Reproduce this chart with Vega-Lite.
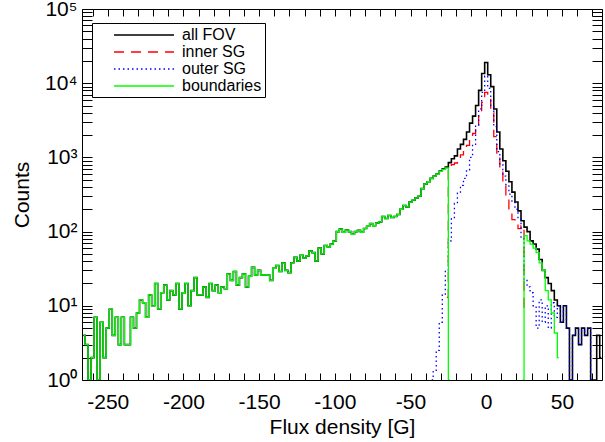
{
  "$schema": "https://vega.github.io/schema/vega-lite/v6.json",
  "width": 520,
  "height": 371,
  "autosize": {"type": "none"},
  "padding": {"left": 82, "top": 9, "right": 3, "bottom": 62},
  "background": "white",
  "config": {
    "view": {"stroke": null},
    "font": "Liberation Sans",
    "axis": {"grid": false, "domainColor": "black", "domainWidth": 1, "tickColor": "black", "tickWidth": 1, "labelColor": "black", "titleColor": "black", "labelFont": "Liberation Sans", "titleFont": "Liberation Sans", "labelFontSize": 21, "titleFontSize": 21, "titleFontWeight": "normal", "labelOverlap": false, "labelFlush": false},
    "legend": {
      "orient": "none", "legendX": 10, "legendY": 14,
      "padding": 3, "strokeColor": "black", "fillColor": "white", "cornerRadius": 0,
      "symbolType": "M-3.75,0H3.75", "symbolSize": 256, "symbolStrokeWidth": 1.5,
      "symbolOffset": 40, "labelOffset": 29, "rowPadding": -0.7,
      "labelFont": "Liberation Sans", "labelFontSize": 16, "labelColor": "black",
      "symbolFillColor": "transparent"
    }
  },
  "data": {"values": [
    {"x": -266, "all FOV": 4, "boundaries": 4},
    {"x": -264, "all FOV": 3, "boundaries": 3},
    {"x": -262, "all FOV": 1, "boundaries": 1},
    {"x": -260, "all FOV": 2, "boundaries": 2},
    {"x": -258, "all FOV": 7, "boundaries": 7},
    {"x": -256, "all FOV": 1, "boundaries": 1},
    {"x": -254, "all FOV": 6, "boundaries": 6},
    {"x": -252, "all FOV": 2, "boundaries": 2},
    {"x": -250, "all FOV": 5, "boundaries": 5},
    {"x": -248, "all FOV": 9, "boundaries": 9},
    {"x": -246, "all FOV": 4, "boundaries": 4},
    {"x": -244, "all FOV": 7, "boundaries": 7},
    {"x": -242, "all FOV": 3, "boundaries": 3},
    {"x": -240, "all FOV": 7, "boundaries": 7},
    {"x": -238, "all FOV": 3, "boundaries": 3},
    {"x": -236, "all FOV": 3, "boundaries": 3},
    {"x": -234, "all FOV": 7, "boundaries": 7},
    {"x": -232, "all FOV": 5, "boundaries": 5},
    {"x": -230, "all FOV": 8, "boundaries": 8},
    {"x": -228, "all FOV": 12, "boundaries": 12},
    {"x": -226, "all FOV": 11, "boundaries": 11},
    {"x": -224, "all FOV": 7, "boundaries": 7},
    {"x": -222, "all FOV": 14, "boundaries": 14},
    {"x": -220, "all FOV": 10, "boundaries": 10},
    {"x": -218, "all FOV": 20, "boundaries": 20},
    {"x": -216, "all FOV": 9, "boundaries": 9},
    {"x": -214, "all FOV": 15, "boundaries": 15},
    {"x": -212, "all FOV": 19, "boundaries": 19},
    {"x": -210, "all FOV": 12, "boundaries": 12},
    {"x": -208, "all FOV": 16, "boundaries": 16},
    {"x": -206, "all FOV": 14, "boundaries": 14},
    {"x": -204, "all FOV": 20, "boundaries": 20},
    {"x": -202, "all FOV": 9, "boundaries": 9},
    {"x": -200, "all FOV": 15, "boundaries": 15},
    {"x": -198, "all FOV": 20, "boundaries": 20},
    {"x": -196, "all FOV": 10, "boundaries": 10},
    {"x": -194, "all FOV": 16, "boundaries": 16},
    {"x": -192, "all FOV": 24, "boundaries": 24},
    {"x": -190, "all FOV": 14, "boundaries": 14},
    {"x": -188, "all FOV": 14, "boundaries": 14},
    {"x": -186, "all FOV": 18, "boundaries": 18},
    {"x": -184, "all FOV": 13, "boundaries": 13},
    {"x": -182, "all FOV": 20, "boundaries": 20},
    {"x": -180, "all FOV": 16, "boundaries": 16},
    {"x": -178, "all FOV": 19, "boundaries": 19},
    {"x": -176, "all FOV": 15, "boundaries": 15},
    {"x": -174, "all FOV": 18, "boundaries": 18},
    {"x": -172, "all FOV": 17, "boundaries": 17},
    {"x": -170, "all FOV": 27, "boundaries": 27},
    {"x": -168, "all FOV": 22, "boundaries": 22},
    {"x": -166, "all FOV": 29, "boundaries": 29},
    {"x": -164, "all FOV": 19, "boundaries": 19},
    {"x": -162, "all FOV": 24, "boundaries": 24},
    {"x": -160, "all FOV": 27, "boundaries": 27},
    {"x": -158, "all FOV": 18, "boundaries": 18},
    {"x": -156, "all FOV": 25, "boundaries": 25},
    {"x": -154, "all FOV": 33, "boundaries": 33},
    {"x": -152, "all FOV": 26, "boundaries": 26},
    {"x": -150, "all FOV": 30, "boundaries": 30},
    {"x": -148, "all FOV": 26, "boundaries": 26},
    {"x": -146, "all FOV": 26, "boundaries": 26},
    {"x": -144, "all FOV": 26, "boundaries": 26},
    {"x": -142, "all FOV": 22, "boundaries": 22},
    {"x": -140, "all FOV": 32, "boundaries": 32},
    {"x": -138, "all FOV": 35, "boundaries": 35},
    {"x": -136, "all FOV": 29, "boundaries": 29},
    {"x": -134, "all FOV": 38, "boundaries": 38},
    {"x": -132, "all FOV": 30, "boundaries": 30},
    {"x": -130, "all FOV": 28, "boundaries": 28},
    {"x": -128, "all FOV": 38, "boundaries": 38},
    {"x": -126, "all FOV": 45, "boundaries": 45},
    {"x": -124, "all FOV": 40, "boundaries": 40},
    {"x": -122, "all FOV": 48, "boundaries": 48},
    {"x": -120, "all FOV": 44, "boundaries": 44},
    {"x": -118, "all FOV": 47, "boundaries": 47},
    {"x": -116, "all FOV": 55, "boundaries": 55},
    {"x": -114, "all FOV": 52, "boundaries": 52},
    {"x": -112, "all FOV": 40, "boundaries": 40},
    {"x": -110, "all FOV": 60, "boundaries": 60},
    {"x": -108, "all FOV": 50, "boundaries": 50},
    {"x": -106, "all FOV": 65, "boundaries": 65},
    {"x": -104, "all FOV": 62, "boundaries": 62},
    {"x": -102, "all FOV": 68, "boundaries": 68},
    {"x": -100, "all FOV": 75, "boundaries": 75},
    {"x": -98, "all FOV": 100, "boundaries": 100},
    {"x": -96, "all FOV": 108, "boundaries": 108},
    {"x": -94, "all FOV": 98, "boundaries": 98},
    {"x": -92, "all FOV": 105, "boundaries": 105},
    {"x": -90, "all FOV": 100, "boundaries": 100},
    {"x": -88, "all FOV": 92, "boundaries": 92},
    {"x": -86, "all FOV": 100, "boundaries": 100},
    {"x": -84, "all FOV": 104, "boundaries": 104},
    {"x": -82, "all FOV": 98, "boundaries": 98},
    {"x": -80, "all FOV": 110, "boundaries": 110},
    {"x": -78, "all FOV": 118, "boundaries": 118},
    {"x": -76, "all FOV": 128, "boundaries": 128},
    {"x": -74, "all FOV": 120, "boundaries": 120},
    {"x": -72, "all FOV": 130, "boundaries": 130},
    {"x": -70, "all FOV": 135, "boundaries": 135},
    {"x": -68, "all FOV": 160, "boundaries": 160},
    {"x": -66, "all FOV": 150, "boundaries": 150},
    {"x": -64, "all FOV": 165, "boundaries": 165},
    {"x": -62, "all FOV": 155, "boundaries": 155},
    {"x": -60, "all FOV": 160, "boundaries": 160},
    {"x": -58, "all FOV": 170, "boundaries": 170},
    {"x": -56, "all FOV": 200, "boundaries": 200},
    {"x": -54, "all FOV": 225, "boundaries": 225},
    {"x": -52, "all FOV": 215, "boundaries": 215},
    {"x": -50, "all FOV": 250, "boundaries": 250},
    {"x": -48, "all FOV": 265, "boundaries": 265},
    {"x": -46, "all FOV": 285, "boundaries": 285},
    {"x": -44, "all FOV": 300, "boundaries": 300},
    {"x": -42, "all FOV": 380, "boundaries": 380},
    {"x": -40, "all FOV": 440, "boundaries": 440},
    {"x": -38, "all FOV": 470, "boundaries": 470},
    {"x": -36, "all FOV": 521, "outer SG": 1, "boundaries": 520},
    {"x": -34, "all FOV": 561, "outer SG": 1.3, "boundaries": 560},
    {"x": -32, "all FOV": 603, "outer SG": 2.5, "boundaries": 600},
    {"x": -30, "all FOV": 656, "outer SG": 6, "boundaries": 650},
    {"x": -28, "all FOV": 704, "outer SG": 14, "boundaries": 690},
    {"x": -26, "all FOV": 740, "inner SG": 13, "outer SG": 30, "boundaries": 720},
    {"x": -24, "all FOV": 850, "inner SG": 750, "outer SG": 75, "boundaries": 1},
    {"x": -22, "all FOV": 960, "inner SG": 800, "outer SG": 150},
    {"x": -20, "all FOV": 1050, "inner SG": 840, "outer SG": 240},
    {"x": -18, "all FOV": 1300, "inner SG": 950, "outer SG": 330},
    {"x": -16, "all FOV": 1500, "inner SG": 1080, "outer SG": 420},
    {"x": -14, "all FOV": 1750, "inner SG": 1250, "outer SG": 520},
    {"x": -12, "all FOV": 2200, "inner SG": 1450, "outer SG": 680},
    {"x": -10, "all FOV": 2900, "inner SG": 1750, "outer SG": 1000},
    {"x": -8, "all FOV": 3600, "inner SG": 2100, "outer SG": 1450},
    {"x": -6, "all FOV": 5000, "inner SG": 2600, "outer SG": 2700},
    {"x": -4, "all FOV": 8000, "inner SG": 3600, "outer SG": 4500},
    {"x": -2, "all FOV": 13500, "inner SG": 5500, "outer SG": 7500},
    {"x": 0, "all FOV": 19000, "inner SG": 7500, "outer SG": 12500},
    {"x": 2, "all FOV": 13000, "inner SG": 6500, "outer SG": 8500},
    {"x": 4, "all FOV": 9000, "inner SG": 4000, "outer SG": 5000},
    {"x": 6, "all FOV": 4500, "inner SG": 1900, "outer SG": 2600},
    {"x": 8, "all FOV": 2200, "inner SG": 1100, "outer SG": 1200},
    {"x": 10, "all FOV": 1300, "inner SG": 650, "outer SG": 800},
    {"x": 12, "all FOV": 900, "inner SG": 450, "outer SG": 560},
    {"x": 14, "all FOV": 650, "inner SG": 300, "outer SG": 430},
    {"x": 16, "all FOV": 470, "inner SG": 190, "outer SG": 320},
    {"x": 18, "all FOV": 340, "inner SG": 145, "outer SG": 250},
    {"x": 20, "all FOV": 250, "inner SG": 125, "outer SG": 200},
    {"x": 22, "all FOV": 190, "inner SG": 110, "outer SG": 150},
    {"x": 24, "all FOV": 140, "inner SG": 120, "outer SG": 80, "boundaries": 1},
    {"x": 26, "all FOV": 115, "inner SG": 8, "outer SG": 22, "boundaries": 88},
    {"x": 28, "all FOV": 100, "outer SG": 18, "boundaries": 75},
    {"x": 30, "all FOV": 75, "outer SG": 15, "boundaries": 68},
    {"x": 32, "all FOV": 68, "outer SG": 10, "boundaries": 60},
    {"x": 34, "all FOV": 58, "outer SG": 5, "boundaries": 52},
    {"x": 36, "all FOV": 42, "outer SG": 12, "boundaries": 38},
    {"x": 38, "all FOV": 30, "outer SG": 6, "boundaries": 30},
    {"x": 40, "all FOV": 24, "outer SG": 10, "boundaries": 16},
    {"x": 42, "all FOV": 20, "outer SG": 5, "boundaries": 12},
    {"x": 44, "all FOV": 16, "outer SG": 11, "boundaries": 8},
    {"x": 46, "all FOV": 12, "outer SG": 7, "boundaries": 4.3},
    {"x": 48, "all FOV": 10, "outer SG": 10, "boundaries": 2},
    {"x": 50, "all FOV": 6, "outer SG": 6},
    {"x": 52, "all FOV": 10, "outer SG": 10},
    {"x": 54, "all FOV": 5, "outer SG": 5},
    {"x": 56, "all FOV": 1, "outer SG": 1},
    {"x": 58, "all FOV": 4, "outer SG": 4},
    {"x": 60, "all FOV": 5, "outer SG": 5},
    {"x": 62, "all FOV": 3, "outer SG": 3},
    {"x": 64, "all FOV": 5, "outer SG": 5},
    {"x": 66, "all FOV": 4, "outer SG": 4},
    {"x": 68, "all FOV": 5, "outer SG": 5},
    {"x": 70, "all FOV": 1, "outer SG": 1},
    {"x": 72, "all FOV": 1},
    {"x": 74, "all FOV": 4},
    {"x": 76, "all FOV": 2}
  ]},
  "transform": [
    {"fold": ["all FOV", "inner SG", "outer SG", "boundaries"], "as": ["key", "value"]}
  ],
  "encoding": {
    "x": {"field": "x", "type": "quantitative", "scale": {"domain": [-267, 76.5], "nice": false, "zero": false}},
    "y": {"field": "value", "type": "quantitative", "scale": {"type": "log", "domain": [1, 100000], "nice": false}}
  },
  "layer": [
    {
      "transform": [{"filter": "datum.key == 'all FOV'"}],
      "mark": {"type": "line", "interpolate": "step", "strokeWidth": 1.6, "clip": true},
      "encoding": {
        "x": {"field": "x", "type": "quantitative",
          "axis": {"orient": "bottom", "title": "Flux density [G]", "titlePadding": 4,
            "values": [-260,-250,-240,-230,-220,-210,-200,-190,-180,-170,-160,-150,-140,-130,-120,-110,-100,-90,-80,-70,-60,-50,-40,-30,-20,-10,0,10,20,30,40,50,60,70],
            "labelExpr": "datum.value % 50 == 0 ? datum.value + '' : ''",
            "tickSize": -7, "labelPadding": 18,
            "encode": {"ticks": {"update": {"y2": {"signal": "datum.value % 50 == 0 ? -7 : -4"}}}}}},
        "y": {"field": "value", "type": "quantitative",
          "axis": {"orient": "left", "title": "Counts", "titlePadding": 12,
            "values": [1,2,3,4,5,6,7,8,9,10,20,30,40,50,60,70,80,90,100,200,300,400,500,600,700,800,900,1000,2000,3000,4000,5000,6000,7000,8000,9000,10000,20000,30000,40000,50000,60000,70000,80000,90000,100000],
            "labelExpr": "datum.value == 1 ? '10⁰' : datum.value == 10 ? '10¹' : datum.value == 100 ? '10²' : datum.value == 1000 ? '10³' : datum.value == 10000 ? '10⁴' : datum.value == 100000 ? '10⁵' : ''",
            "tickSize": -10, "labelPadding": 15,
            "encode": {"ticks": {"update": {"x2": {"signal": "indexof([1,10,100,1000,10000,100000], datum.value) >= 0 ? 10 : 5"}}}}}},
        "color": {"field": "key", "type": "nominal", "title": null,
          "scale": {"domain": ["all FOV", "inner SG", "outer SG", "boundaries"], "range": ["black", "#ff0000", "#0000ff", "#00ff00"]}},
        "strokeDash": {"field": "key", "type": "nominal", "title": null,
          "scale": {"domain": ["all FOV", "inner SG", "outer SG", "boundaries"], "range": [[1, 0], [10, 7], [1.5, 3], [1, 0]]}}
      }
    },
    {
      "transform": [{"filter": "datum.key == 'inner SG'"}],
      "mark": {"type": "line", "interpolate": "step", "strokeWidth": 1.3, "clip": true},
      "encoding": {
        "x": {"field": "x", "type": "quantitative", "axis": null},
        "y": {"field": "value", "type": "quantitative", "axis": null},
        "color": {"field": "key", "type": "nominal", "title": null},
        "strokeDash": {"field": "key", "type": "nominal", "title": null}
      }
    },
    {
      "transform": [{"filter": "datum.key == 'outer SG'"}],
      "mark": {"type": "line", "interpolate": "step", "strokeWidth": 1.3, "clip": true},
      "encoding": {
        "x": {"field": "x", "type": "quantitative", "axis": null},
        "y": {"field": "value", "type": "quantitative", "axis": null},
        "color": {"field": "key", "type": "nominal", "title": null},
        "strokeDash": {"field": "key", "type": "nominal", "title": null}
      }
    },
    {
      "transform": [{"filter": "datum.key == 'boundaries'"}],
      "mark": {"type": "line", "interpolate": "step", "strokeWidth": 1.3, "clip": true},
      "encoding": {
        "x": {"field": "x", "type": "quantitative", "axis": null},
        "y": {"field": "value", "type": "quantitative", "axis": null},
        "color": {"field": "key", "type": "nominal", "title": null},
        "strokeDash": {"field": "key", "type": "nominal", "title": null}
      }
    },
    {
      "transform": [{"filter": "datum.key == 'all FOV'"}],
      "mark": {"type": "point", "opacity": 0, "size": 1},
      "encoding": {
        "x": {"field": "x", "type": "quantitative",
          "axis": {"orient": "top", "title": null, "labels": false,
            "values": [-260,-250,-240,-230,-220,-210,-200,-190,-180,-170,-160,-150,-140,-130,-120,-110,-100,-90,-80,-70,-60,-50,-40,-30,-20,-10,0,10,20,30,40,50,60,70],
            "tickSize": -7,
            "encode": {"ticks": {"update": {"y2": {"signal": "datum.value % 50 == 0 ? 7 : 4"}}}}}},
        "y": {"field": "value", "type": "quantitative",
          "axis": {"orient": "right", "title": null, "labels": false,
            "values": [1,2,3,4,5,6,7,8,9,10,20,30,40,50,60,70,80,90,100,200,300,400,500,600,700,800,900,1000,2000,3000,4000,5000,6000,7000,8000,9000,10000,20000,30000,40000,50000,60000,70000,80000,90000,100000],
            "tickSize": -10,
            "encode": {"ticks": {"update": {"x2": {"signal": "indexof([1,10,100,1000,10000,100000], datum.value) >= 0 ? -10 : -5"}}}}}}
      }
    }
  ],
  "resolve": {"axis": {"x": "independent", "y": "independent"}}
}
